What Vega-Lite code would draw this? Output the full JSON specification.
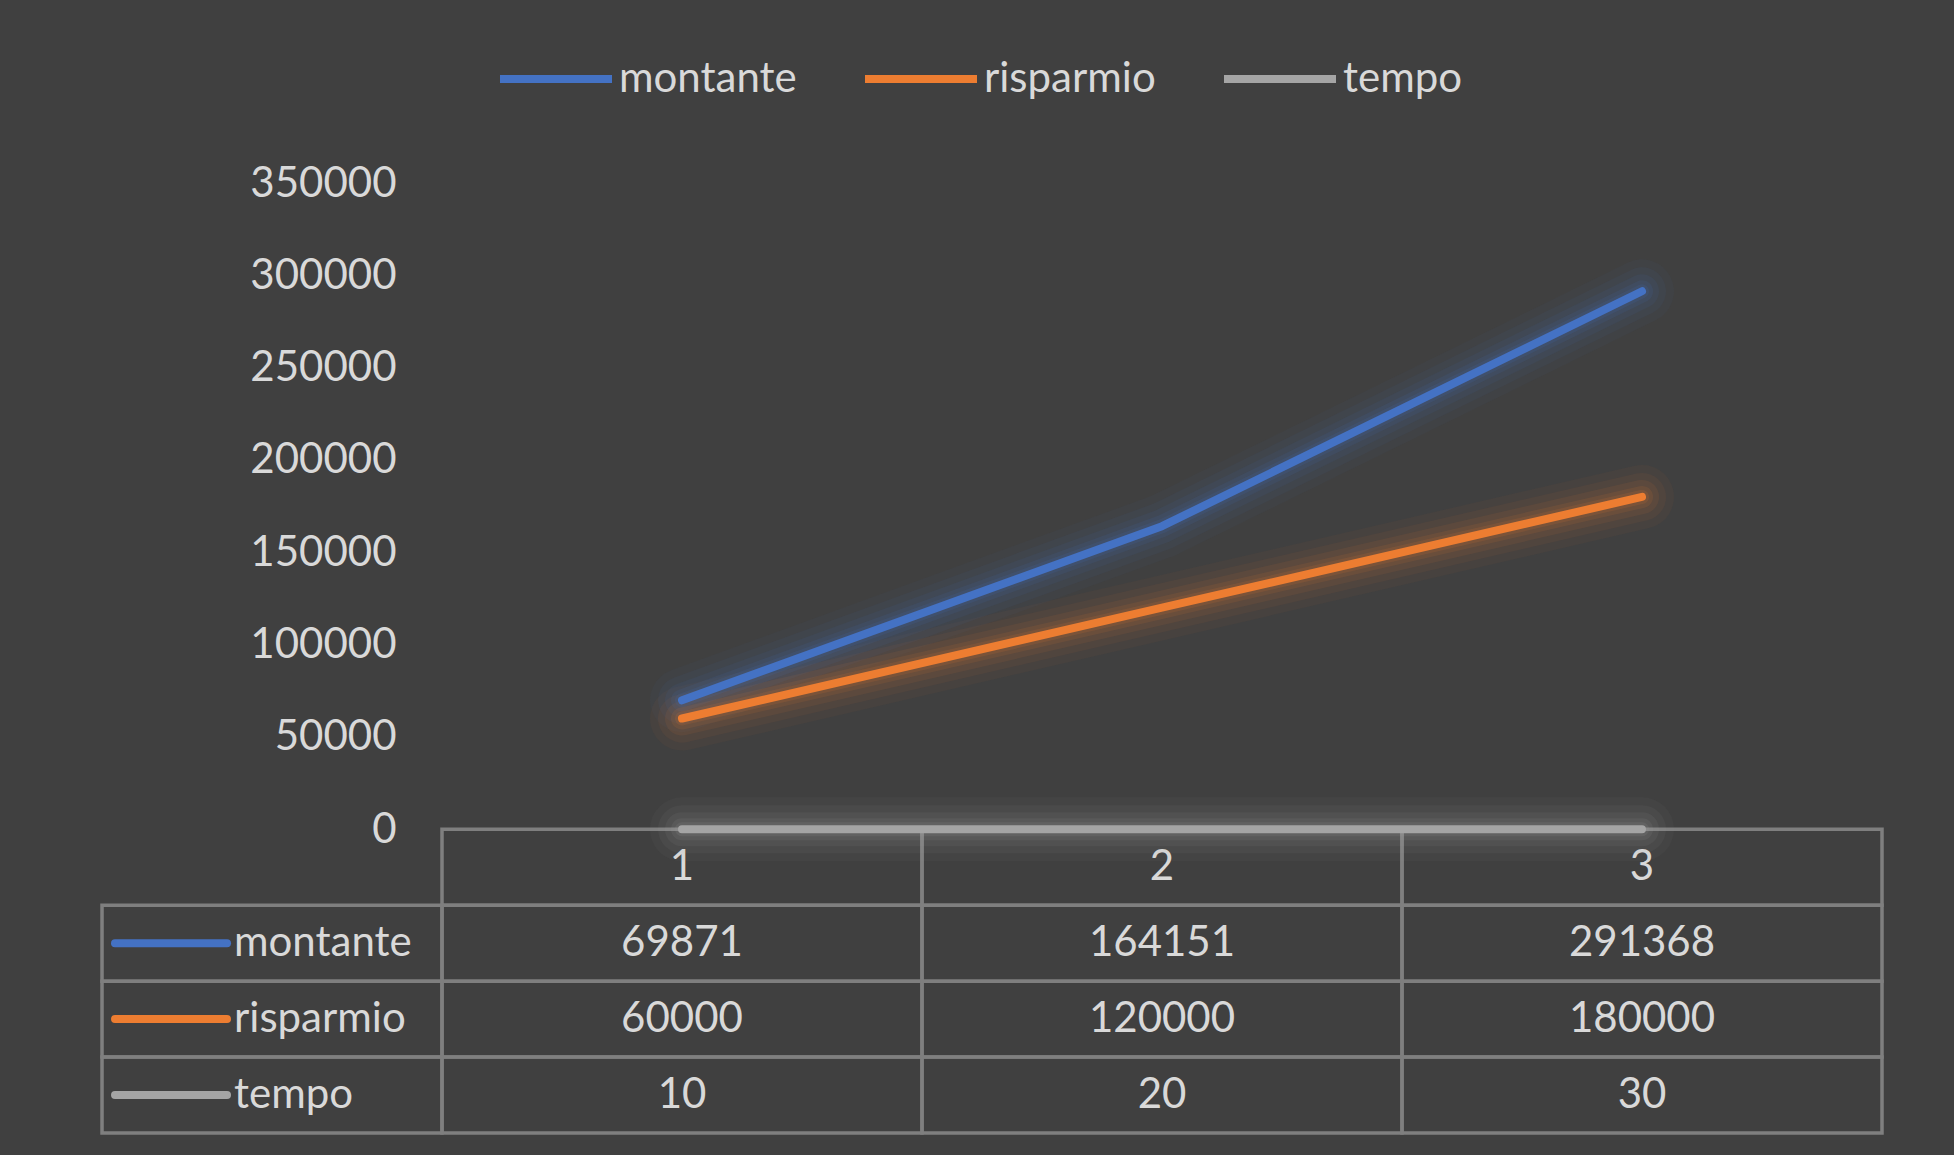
{
  "$schema": "https://vega.github.io/schema/vega-lite/v6.json",
  "width": 1440,
  "height": 950,
  "autosize": {"type": "none"},
  "padding": {"left": 442, "top": 183, "right": 72, "bottom": 22},
  "background": "#404040",
  "config": {
    "font": "Lato",
    "view": {"stroke": null}
  },
  "datasets": {
    "serie": [
      {"anno": 1, "serie": "montante", "valore": 69871},
      {"anno": 2, "serie": "montante", "valore": 164151},
      {"anno": 3, "serie": "montante", "valore": 291368},
      {"anno": 1, "serie": "risparmio", "valore": 60000},
      {"anno": 2, "serie": "risparmio", "valore": 120000},
      {"anno": 3, "serie": "risparmio", "valore": 180000},
      {"anno": 1, "serie": "tempo", "valore": 10},
      {"anno": 2, "serie": "tempo", "valore": 20},
      {"anno": 3, "serie": "tempo", "valore": 30}
    ]
  },
  "data": {"name": "serie"},
  "encoding": {
    "x": {
      "field": "anno",
      "type": "quantitative",
      "scale": {"domain": [0.5, 3.5], "nice": false, "zero": false},
      "axis": null
    },
    "color": {
      "field": "serie",
      "type": "nominal",
      "scale": {
        "domain": ["montante", "risparmio", "tempo"],
        "range": ["#4472C4", "#ED7D31", "#A5A5A5"]
      },
      "legend": {
        "orient": "none",
        "legendX": 54,
        "legendY": -164,
        "direction": "horizontal",
        "title": null,
        "symbolType": "stroke",
        "symbolSize": 12544,
        "symbolStrokeWidth": 8,
        "symbolOpacity": 1,
        "labelFontSize": 42,
        "labelColor": "#D9D9D9",
        "labelFont": "Lato",
        "labelLimit": 500,
        "labelOffset": 3,
        "columnPadding": 52,
        "padding": 0
      }
    }
  },
  "layer": [
    {
      "encoding": {
        "y": {
          "field": "serie",
          "type": "nominal",
          "scale": {
            "type": "band",
            "domain": ["categoria", "montante", "risparmio", "tempo"],
            "range": [646.3, 950],
            "paddingInner": 0,
            "paddingOuter": 0
          },
          "axis": null
        }
      },
      "layer": [
        {
          "transform": [{"filter": "datum.serie === 'montante'"}],
          "mark": {"type": "rect", "width": 480, "fillOpacity": 0, "stroke": "#7F7F7F", "strokeWidth": 3.5},
          "encoding": {
            "y": {"datum": "categoria", "type": "nominal"},
            "color": {"value": "#7F7F7F"}
          }
        },
        {
          "mark": {"type": "rect", "width": 480, "fillOpacity": 0, "stroke": "#7F7F7F", "strokeWidth": 3.5},
          "encoding": {"color": {"value": "#7F7F7F"}}
        },
        {
          "transform": [{"filter": "datum.anno === 1"}],
          "mark": {"type": "rect", "fillOpacity": 0, "stroke": "#7F7F7F", "strokeWidth": 3.5},
          "encoding": {
            "x": {"datum": -0.2083, "type": "quantitative"},
            "x2": {"datum": 0.5},
            "color": {"value": "#7F7F7F"}
          }
        },
        {
          "transform": [{"filter": "datum.anno === 1"}],
          "mark": {"type": "rule", "strokeWidth": 8, "strokeCap": "round"},
          "encoding": {
            "x": {"datum": -0.1812, "type": "quantitative"},
            "x2": {"datum": 0.0521},
            "y": {"field": "serie", "type": "nominal", "bandPosition": 0.5}
          }
        },
        {
          "transform": [{"filter": "datum.anno === 1"}],
          "mark": {"type": "text", "align": "left", "baseline": "middle", "fontSize": 42},
          "encoding": {
            "x": {"datum": 0.0667, "type": "quantitative"},
            "y": {"field": "serie", "type": "nominal", "bandPosition": 0.5},
            "text": {"field": "serie"},
            "color": {"value": "#D9D9D9"}
          }
        },
        {
          "transform": [{"filter": "datum.serie === 'montante'"}],
          "mark": {"type": "text", "align": "center", "baseline": "middle", "fontSize": 42},
          "encoding": {
            "y": {"datum": "categoria", "type": "nominal", "bandPosition": 0.5},
            "text": {"field": "anno"},
            "color": {"value": "#D9D9D9"}
          }
        },
        {
          "mark": {"type": "text", "align": "center", "baseline": "middle", "fontSize": 42},
          "encoding": {
            "y": {"field": "serie", "type": "nominal", "bandPosition": 0.5},
            "text": {"field": "valore", "format": "d"},
            "color": {"value": "#D9D9D9"}
          }
        }
      ]
    },
    {
      "encoding": {
        "y": {
          "field": "valore",
          "type": "quantitative",
          "scale": {"domain": [0, 350000], "range": [646.3, 0], "nice": false, "zero": true},
          "axis": {
            "orient": "left",
            "values": [0, 50000, 100000, 150000, 200000, 250000, 300000, 350000],
            "format": "d",
            "title": null,
            "ticks": false,
            "domain": false,
            "labelFont": "Lato",
            "labelFontSize": 42,
            "labelColor": "#D9D9D9",
            "labelPadding": 46,
            "gridColor": "#595959",
            "gridWidth": 3
          }
        }
      },
      "layer": [
        {"mark": {"type": "line", "strokeWidth": 64, "opacity": 0.045, "strokeCap": "round", "strokeJoin": "round"}},
        {"mark": {"type": "line", "strokeWidth": 48, "opacity": 0.06, "strokeCap": "round", "strokeJoin": "round"}},
        {"mark": {"type": "line", "strokeWidth": 34, "opacity": 0.08, "strokeCap": "round", "strokeJoin": "round"}},
        {"mark": {"type": "line", "strokeWidth": 22, "opacity": 0.1, "strokeCap": "round", "strokeJoin": "round"}},
        {"mark": {"type": "line", "strokeWidth": 14, "opacity": 0.12, "strokeCap": "round", "strokeJoin": "round"}},
        {"mark": {"type": "line", "strokeWidth": 8, "strokeCap": "round", "strokeJoin": "round"}}
      ]
    }
  ],
  "resolve": {"scale": {"y": "independent"}, "axis": {"y": "independent"}}
}
